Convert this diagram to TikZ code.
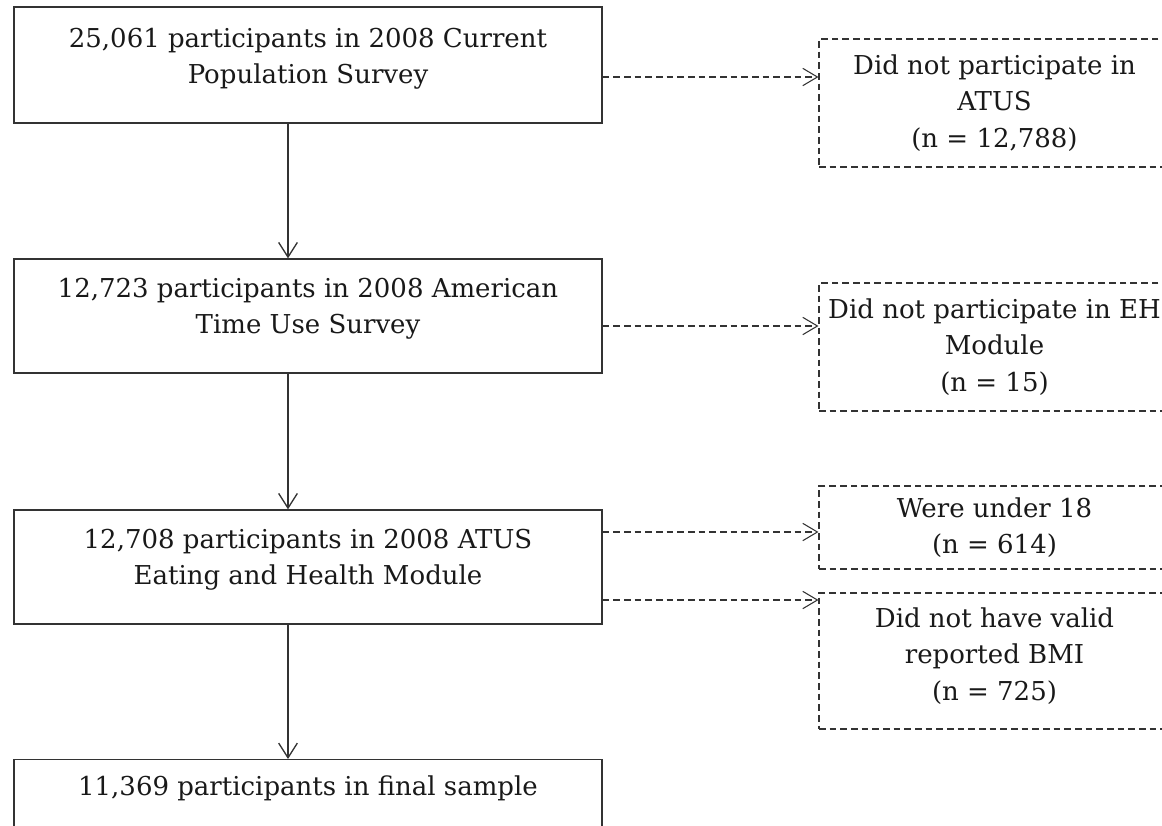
\documentclass[tikz,border=0pt]{standalone}
\usepackage{fontspec}
\setmainfont{DejaVu Serif}
\usetikzlibrary{arrows.meta}
\newcommand\liftdown[1]{\rule[-#1]{0pt}{#1}}
\begin{document}
\begin{tikzpicture}[x=0.75pt,y=-0.75pt,
  every node/.style={font=\fontsize{19.5}{27.5}\selectfont, text=black!90},
  mainbox/.style={draw=black!80, line width=1pt, minimum width=441pt, align=center, inner sep=0pt},
  sidebox/.style={draw=black!80, line width=0.8pt, dash pattern=on 5pt off 3pt, minimum width=263.25pt, align=center, inner sep=0pt},
  arr/.style={draw=black!80, line width=1pt, -{Straight Barb[length=11pt,width=14pt]}},
  darr/.style={draw=black!80, line width=0.8pt, dash pattern=on 5pt off 3pt, -{Straight Barb[length=11pt,width=13pt]}}
]
\path[use as bounding box] (0,0) rectangle (1162,825);
\clip (0,0) rectangle (1162,825);

\node[mainbox, minimum height=87pt] (b1) at (308,65) {25,061 participants in 2008 Current\\Population Survey\liftdown{13.5pt}};
\node[mainbox, minimum height=85.5pt] (b2) at (308,316) {12,723 participants in 2008 American\\Time Use Survey\liftdown{15pt}};
\node[mainbox, minimum height=85.5pt] (b3) at (308,567) {12,708 participants in 2008 ATUS\\Eating and Health Module\liftdown{15pt}};
\node[mainbox, minimum height=85.5pt, anchor=north] (b4) at (308,759) {11,369 participants in final sample\liftdown{46.5pt}};

\node[sidebox, minimum height=96pt] (d1) at (994.5,103) {Did not participate in\\ATUS\\(n = 12,788)};
\node[sidebox, minimum height=96pt] (d2) at (994.5,347) {Did not participate in EH\\Module\\(n = 15)};
\node[sidebox, minimum height=62.25pt] (d3) at (994.5,527.5) {Were under 18\\(n = 614)};
\node[sidebox, minimum height=102pt] (d4) at (994.5,661) {Did not have valid\\reported BMI\\(n = 725)\liftdown{10.5pt}};

\coordinate (vx) at (288,0);
\draw[arr] (b1.south -| vx) -- (b2.north -| vx);
\draw[arr] (b2.south -| vx) -- (b3.north -| vx);
\draw[arr] (b3.south -| vx) -- (b4.north -| vx);

\coordinate (y1) at (0,77);
\coordinate (y2) at (0,326);
\coordinate (y3) at (0,532);
\coordinate (y4) at (0,600);
\draw[darr] (b1.east |- y1) -- (d1.west |- y1);
\draw[darr] (b2.east |- y2) -- (d2.west |- y2);
\draw[darr] (b3.east |- y3) -- (d3.west |- y3);
\draw[darr] (b3.east |- y4) -- (d4.west |- y4);
\end{tikzpicture}
\end{document}
